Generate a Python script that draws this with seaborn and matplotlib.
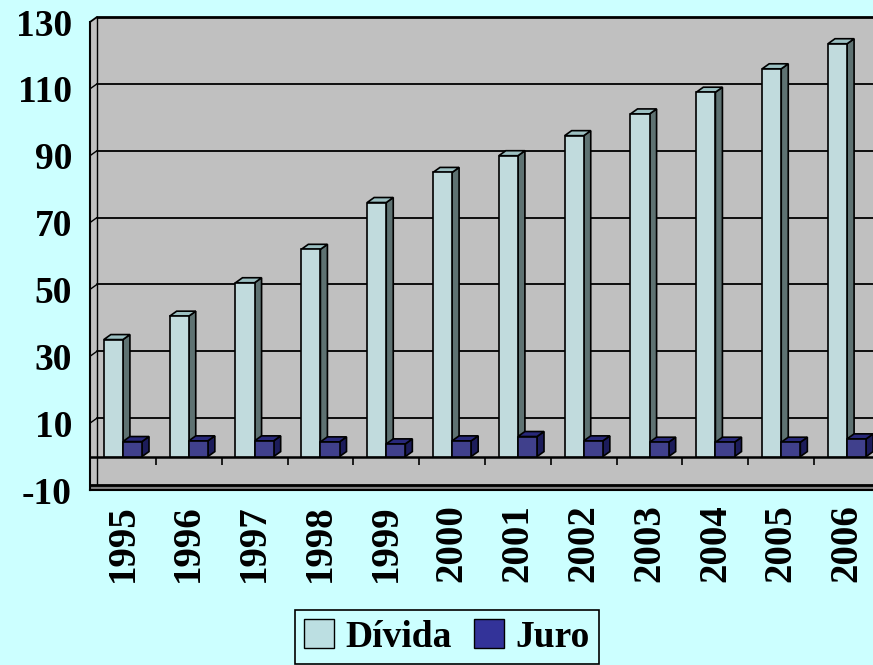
import numpy as np
import pandas as pd
import seaborn as sns
import matplotlib.pyplot as plt
from matplotlib.patches import Polygon, Patch

years = ["1995", "1996", "1997", "1998", "1999", "2000",
         "2001", "2002", "2003", "2004", "2005", "2006"]
divida = [35, 42, 52, 62, 76, 85, 90, 96, 102.5, 109, 116, 123.5]
juro = [4.5, 4.7, 4.7, 4.4, 3.8, 4.7, 6.0, 4.7, 4.3, 4.3, 4.3, 5.3]
series = ["Dívida", "Juro"]
y_ticks = list(range(-10, 131, 20))

front_colors = ["#BCDFE2", "#333399"]
side_colors = ["#5E7272", "#1C1C5A"]
top_colors = ["#9CC0C2", "#28287A"]
BG = "#CCFFFF"
WALL = "#C0C0C0"

df = pd.DataFrame({
    "Ano": years * 2,
    "Serie": [series[0]] * len(years) + [series[1]] * len(years),
    "Valor": divida + juro,
})

sns.set_style("white")
plt.rcParams["font.family"] = ["Liberation Serif", "DejaVu Serif"]
plt.rcParams["font.weight"] = "bold"
plt.rcParams["text.color"] = "black"
plt.rcParams["axes.unicode_minus"] = False

fig = plt.figure(figsize=(8.73, 6.65), dpi=100, facecolor=BG)
ax = fig.add_axes([90 / 873, 175 / 665, 790 / 873, 468 / 665])
ax.set_facecolor(WALL)

sns.barplot(data=df, x="Ano", y="Valor", hue="Serie",
            palette=dict(zip(series, front_colors)), width=0.58,
            edgecolor="black", linewidth=1.2, ax=ax, legend=False, zorder=3)

ymin, ymax = -10, 130
xmin, xmax = -0.5, len(years) - 0.5
ax.set_ylim(ymin, ymax)
ax.set_xlim(xmin, xmax)

# depth offset of the fake 3d look, in data units
bbox = ax.get_window_extent()
dx = 7 * (xmax - xmin) / bbox.width
dy = 5 * (ymax - ymin) / bbox.height

bars = list(ax.patches)
n = len(years)
for i, bar in enumerate(bars):
    k = i // n
    x0, w, h = bar.get_x(), bar.get_width(), bar.get_height()
    x1 = x0 + w
    side = Polygon([(x1, 0), (x1, h), (x1 + dx, h + dy), (x1 + dx, dy)],
                   closed=True, facecolor=side_colors[k], edgecolor="black",
                   lw=1.2, zorder=2.9, clip_on=False)
    top = Polygon([(x0, h), (x1, h), (x1 + dx, h + dy), (x0 + dx, h + dy)],
                  closed=True, facecolor=top_colors[k], edgecolor="black",
                  lw=1.2, zorder=2.9, clip_on=False)
    ax.add_patch(side)
    ax.add_patch(top)

# back wall: gridlines, edges, floor
for v in y_ticks[1:-1]:
    ax.plot([xmin + dx, xmax + dx], [v + dy, v + dy], color="black", lw=1.3, zorder=1, clip_on=False)
    ax.plot([xmin, xmin + dx], [v, v + dy], color="black", lw=1.0, zorder=1)
ax.add_patch(Polygon([(xmin, ymax), (xmin + dx, ymax + dy), (xmax + 1, ymax + dy), (xmax + 1, ymax)],
                     closed=True, facecolor=WALL, edgecolor="none", zorder=0.5, clip_on=False))
ax.plot([xmin + dx, xmax + 1], [ymax + dy, ymax + dy], color="black", lw=2, zorder=1, clip_on=False)
ax.plot([xmin, xmin + dx], [ymax, ymax + dy], color="black", lw=1.3, zorder=1, clip_on=False)
ax.plot([xmin + dx, xmin + dx], [ymin + dy, ymax + dy], color="black", lw=1.0, zorder=1, clip_on=False)
ax.axhspan(ymin, ymin + dy, color="#808080", zorder=1)
ax.axhline(ymin + dy, color="black", lw=2, zorder=1.5)
ax.axhline(0, color="black", lw=1.8, zorder=2)
ax.vlines(np.arange(xmin + 1, xmax, 1), -2.4, 0, color="black", lw=1.2, zorder=2)

for s in ["top", "right"]:
    ax.spines[s].set_visible(False)
for s in ["left", "bottom"]:
    ax.spines[s].set_color("black")
    ax.spines[s].set_linewidth(1.5)

ax.set_yticks(y_ticks)
ax.tick_params(axis="y", direction="out", length=7, width=1.3, labelsize=27, pad=6, colors="black")
ax.set_xticks(range(n))
ax.set_xticklabels(years, rotation=90)
ax.set_xticks(np.arange(xmin, xmax + 0.01, 1), minor=True)
ax.tick_params(axis="x", which="major", length=0, labelsize=28, pad=10, colors="black")
ax.tick_params(axis="x", which="minor", direction="out", length=8, width=1.3, color="black")
for lab in ax.get_xticklabels() + ax.get_yticklabels():
    lab.set_fontweight("bold")
ax.set_xlabel("")
ax.set_ylabel("")

handles = [Patch(facecolor=c, edgecolor="black", label=s) for s, c in zip(series, front_colors)]
leg = fig.legend(handles=handles, loc="upper center", bbox_to_anchor=(447 / 873, 1 - 610 / 665),
                 ncol=2, frameon=True, fancybox=False, facecolor=BG, edgecolor="black", framealpha=1,
                 prop={"size": 27, "weight": "bold"}, handlelength=0.8, handleheight=0.8,
                 handletextpad=0.3, columnspacing=0.6, borderpad=0.25, borderaxespad=0)
leg.get_frame().set_linewidth(1.2)
for t in leg.get_texts():
    t.set_color("black")

fig.savefig("out.png", dpi=100, facecolor=fig.get_facecolor())
